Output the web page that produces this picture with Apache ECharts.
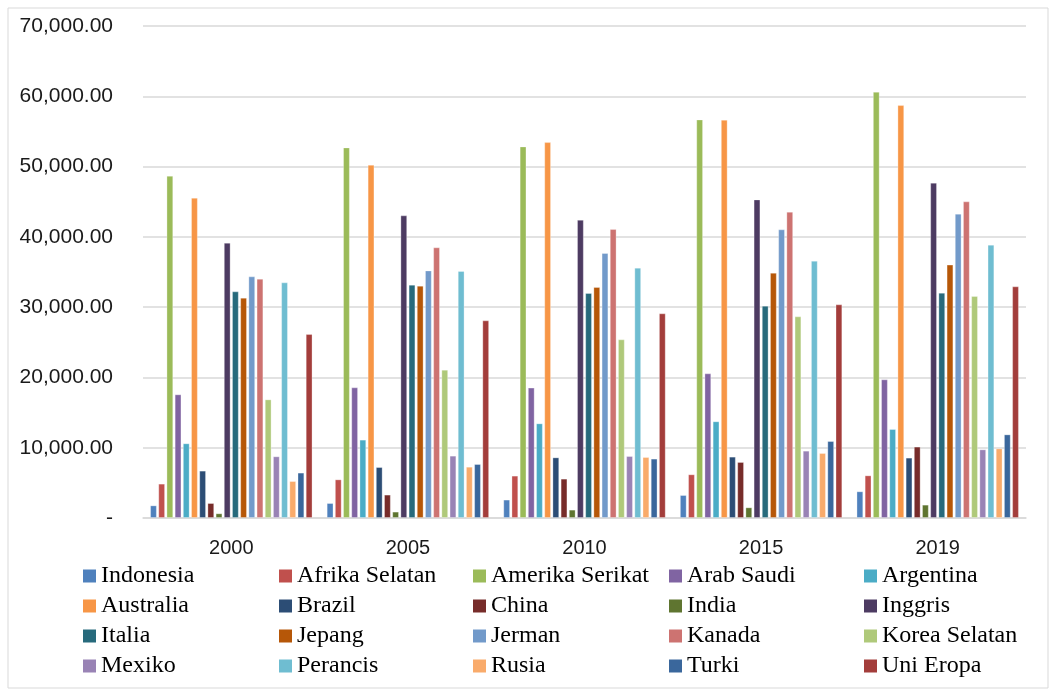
<!DOCTYPE html>
<html>
<head>
<meta charset="utf-8">
<script src="https://cdn.jsdelivr.net/npm/echarts@6/dist/echarts.min.js"></script>
<style>
  html, body { margin: 0; padding: 0; background: #fff; }
  #chart { width: 1056px; height: 695px; }
</style>
</head>
<body>
<div id="chart"></div>
<script>
// Years on the category axis
const years = ['2000', '2005', '2010', '2015', '2019'];

// Value axis ticks
const yMax = 70000;
const yStep = 10000;

// Values per country, one entry per year
const indonesia      = [1800, 2130, 2620, 3270, 3800];
const afrikaSelatan  = [4890, 5500, 6030, 6220, 6070];
const amerikaSerikat = [48700, 52730, 52870, 56710, 60650];
const arabSaudi      = [17600, 18590, 18550, 20580, 19730];
const argentina      = [10630, 11150, 13470, 13760, 12660];
const australia      = [45570, 50270, 53480, 56670, 58750];
const brazil         = [6740, 7250, 8630, 8730, 8590];
const china          = [2130, 3330, 5600, 7970, 10160];
const india          = [670, 910, 1190, 1520, 1900];
const inggris        = [39170, 43060, 42440, 45330, 47710];
const italia         = [32250, 33200, 32010, 30210, 32060];
const jepang         = [31350, 33060, 32860, 34900, 36050];
const jerman         = [34380, 35230, 37700, 41070, 43300];
const kanada         = [34050, 38510, 41110, 43580, 45050];
const koreaSelatan   = [16880, 21110, 25420, 28690, 31580];
const mexiko         = [8780, 8870, 8820, 9580, 9770];
const perancis       = [33530, 35140, 35620, 36610, 38890];
const rusia          = [5260, 7300, 8680, 9250, 9910];
const turki          = [6460, 7680, 8450, 10950, 11900];
const uniEropa       = [26170, 28120, 29120, 30400, 32960];

const countries = [
  ['Indonesia', indonesia, '#4F81BD'],
  ['Afrika Selatan', afrikaSelatan, '#C0504D'],
  ['Amerika Serikat', amerikaSerikat, '#9BBB59'],
  ['Arab Saudi', arabSaudi, '#8064A2'],
  ['Argentina', argentina, '#4BACC6'],
  ['Australia', australia, '#F79646'],
  ['Brazil', brazil, '#2C4D75'],
  ['China', china, '#772C2A'],
  ['India', india, '#5F7530'],
  ['Inggris', inggris, '#4D3B62'],
  ['Italia', italia, '#276A7C'],
  ['Jepang', jepang, '#B65708'],
  ['Jerman', jerman, '#729ACA'],
  ['Kanada', kanada, '#CD7371'],
  ['Korea Selatan', koreaSelatan, '#AFC97A'],
  ['Mexiko', mexiko, '#9983B5'],
  ['Perancis', perancis, '#6FBDD1'],
  ['Rusia', rusia, '#F9AB6B'],
  ['Turki', turki, '#3A679C'],
  ['Uni Eropa', uniEropa, '#A33D3B']
];

const chart = echarts.init(document.getElementById('chart'), null, { renderer: 'canvas' });

function fmtAxis(v) {
  if (v === 0) return '-';
  return v.toLocaleString('en-US', { minimumFractionDigits: 2, maximumFractionDigits: 2 });
}

// Legend laid out as five columns of four entries
const legendCols = [83, 279, 473, 669, 864];
const legends = legendCols.map((left, c) => ({
  orient: 'vertical',
  left: left,
  top: 561,
  padding: 0,
  itemWidth: 13,
  itemHeight: 13,
  itemGap: 0,
  icon: 'rect',
  selectedMode: false,
  itemStyle: { borderWidth: 0 },
  textStyle: {
    fontFamily: 'Liberation Serif',
    fontSize: 24,
    lineHeight: 30,
    color: '#000',
    padding: [0, 0, 0, 0]
  },
  data: [0, 1, 2, 3].map(r => countries[r * 5 + c][0])
}));

const series = countries.map(([name, values, color]) => ({
  name: name,
  type: 'bar',
  data: values,
  barGap: '20%',
  barCategoryGap: '8%',
  itemStyle: {
    color: color,
    borderColor: 'rgba(255,255,255,0.3)',
    borderWidth: 1
  },
  emphasis: { disabled: true }
}));

chart.setOption({
  animation: false,
  backgroundColor: '#ffffff',
  graphic: [{
    type: 'rect',
    shape: { x: 8, y: 8, width: 1040, height: 680 },
    style: { fill: 'none', stroke: '#D9D9D9', lineWidth: 1 },
    silent: true,
    z: -1
  }],
  grid: { left: 143, right: 30, top: 26, bottom: 177, containLabel: false },
  legend: legends,
  xAxis: {
    type: 'category',
    data: years,
    axisLine: { show: true, lineStyle: { color: '#D9D9D9', width: 1.5 } },
    axisTick: { show: false },
    axisLabel: {
      margin: 20,
      fontFamily: 'Liberation Sans',
      fontSize: 20,
      color: '#1a1a1a'
    }
  },
  yAxis: {
    type: 'value',
    min: 0,
    max: yMax,
    interval: yStep,
    axisLine: { show: false },
    axisTick: { show: false },
    splitLine: { lineStyle: { color: '#D9D9D9', width: 1.5 } },
    axisLabel: {
      margin: 30,
      fontFamily: 'Liberation Sans',
      fontSize: 21,
      color: '#1a1a1a',
      formatter: fmtAxis
    }
  },
  series: series
});
</script>
</body>
</html>
